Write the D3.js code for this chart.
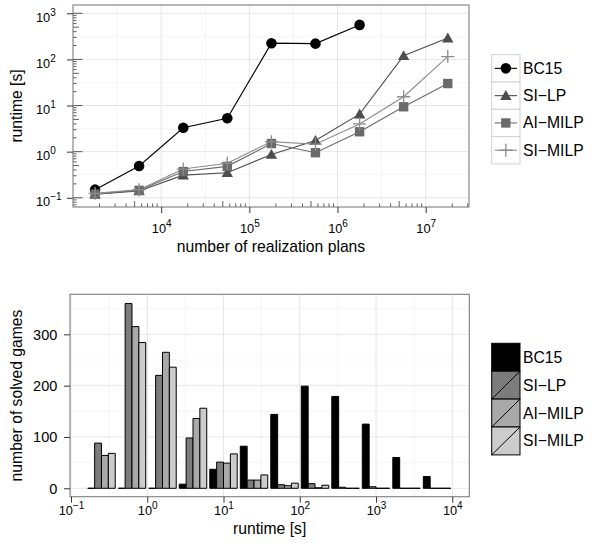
<!DOCTYPE html>
<html><head><meta charset="utf-8">
<script src="https://cdn.jsdelivr.net/npm/d3@7"></script>
<style>
body{margin:0;background:#fff}
svg{display:block}
text{font-family:"Liberation Sans", Arial, Helvetica, sans-serif;fill:#000}
</style>
</head><body>
<svg id="chart" width="595" height="549"></svg>
<script>
// ---------- data: top chart (runtime vs number of realization plans) ----------
const seriesNames = ["BC15", "SI\u2212LP", "AI\u2212MILP", "SI\u2212MILP"];
const realizationPlans = [1.78e3, 5.62e3, 1.78e4, 5.62e4, 1.78e5, 5.62e5, 1.78e6, 5.62e6, 1.78e7];
const runtimeBC15   = [0.15, 0.49, 3.3, 5.3, 225, 220, 560];
const runtimeSILP   = [0.12, 0.14, 0.31, 0.35, 0.87, 1.75, 6.5, 120, 290];
const runtimeAIMILP = [0.12, 0.145, 0.37, 0.48, 1.5, 0.95, 2.7, 9.4, 30];
const runtimeSIMILP = [0.125, 0.15, 0.42, 0.56, 1.65, 1.45, 4.0, 15.5, 115];
const topXTicks = [1e4, 1e5, 1e6, 1e7];
const topXTickExp = ["4", "5", "6", "7"];
const topYTicks = [0.1, 1, 10, 100, 1000];
const topYTickExp = ["\u22121", "0", "1", "2", "3"];

// ---------- data: bottom chart (histogram of runtimes, log10 bins) ----------
const binCentersLog10 = [-0.6, -0.2, 0.2, 0.6, 1.0, 1.4, 1.8, 2.2, 2.6, 3.0, 3.4, 3.8];
const solvedBC15   = [0, 0, 0, 8, 37, 82, 144, 199, 179, 125, 60, 23];
const solvedSILP   = [88, 360, 220, 98, 51, 16, 7, 9, 2, 3, 0, 0];
const solvedAIMILP = [64, 315, 265, 136, 49, 16, 5, 1, 0, 0, 0, 0];
const solvedSIMILP = [68, 284, 236, 156, 67, 26, 10, 6, 0, 0, 0, 0];
const bottomXTicks = [0.1, 1, 10, 100, 1000, 10000];
const bottomXTickExp = ["\u22121", "0", "1", "2", "3", "4"];
const bottomYTicks = [0, 100, 200, 300];

// ---------- styles ----------
const lineColors = ["#000000", "#4d4d4d", "#6a6a6a", "#8c8c8c"];
const barFills = ["#000000", "#7c7c7c", "#a9a9a9", "#cccccc"];
const GRID_MAJ = "#e6e6e6", GRID_MIN = "#f5f5f5", BORDER = "#7f7f7f", TICK = "#333";
const TITLE_FS = 15.7, TICK_FS = 12.8, SUP_FS = 10, YNUM_FS = 14.5;

const svg = d3.select("#chart");

function supLabel(sel, exp) {
  sel.text(null);
  sel.append("tspan").text("10");
  sel.append("tspan").attr("dy", -6).attr("font-size", SUP_FS).text(exp);
}

// =================== TOP CHART ===================
const xT = d3.scaleLog().domain([10 ** 3.0, 10 ** 7.491]).range([73, 469]);
const yT = d3.scaleLog().domain([10 ** -1.2, 10 ** 3.18]).range([207, 5]);
const gT = svg.append("g");
const [tL, tR] = xT.range(), [tB, tTop] = yT.range();

gT.append("rect").attr("x", tL).attr("y", tTop).attr("width", tR - tL).attr("height", tB - tTop).attr("fill", "#fff");
// grid
const tMinX = [3.5, 4.5, 5.5, 6.5].map(e => 10 ** e);
const tMinY = [-0.5, 0.5, 1.5, 2.5].map(e => 10 ** e);
gT.selectAll(".vmin").data(tMinX).join("line").attr("x1", d => xT(d)).attr("x2", d => xT(d))
  .attr("y1", tTop).attr("y2", tB).attr("stroke", GRID_MIN).attr("stroke-width", 1);
gT.selectAll(".hmin").data(tMinY).join("line").attr("y1", d => yT(d)).attr("y2", d => yT(d))
  .attr("x1", tL).attr("x2", tR).attr("stroke", GRID_MIN).attr("stroke-width", 1);
gT.selectAll(".vmaj").data(topXTicks).join("line").attr("x1", d => xT(d)).attr("x2", d => xT(d))
  .attr("y1", tTop).attr("y2", tB).attr("stroke", GRID_MAJ).attr("stroke-width", 1);
gT.selectAll(".hmaj").data(topYTicks).join("line").attr("y1", d => yT(d)).attr("y2", d => yT(d))
  .attr("x1", tL).attr("x2", tR).attr("stroke", GRID_MAJ).attr("stroke-width", 1);

// log ticks inside panel (left and bottom)
const logTickVals = (scale) => {
  const [a, b] = scale.domain(); const out = [];
  for (let k = Math.floor(Math.log10(a)); k <= Math.ceil(Math.log10(b)); k++)
    for (let m = 1; m <= 9; m++) { const v = m * 10 ** k; if (v >= a && v <= b) out.push({ v, m }); }
  return out;
};
gT.selectAll(".ltl").data(logTickVals(yT)).join("line")
  .attr("x1", tL).attr("x2", d => tL + (d.m === 1 ? 9.5 : d.m === 5 ? 6 : 3.5))
  .attr("y1", d => yT(d.v)).attr("y2", d => yT(d.v)).attr("stroke", TICK).attr("stroke-width", 0.8);
gT.selectAll(".ltb").data(logTickVals(xT).filter(d => d.m !== 1)).join("line")
  .attr("y1", tB).attr("y2", d => tB - (d.m === 5 ? 6 : 3.5))
  .attr("x1", d => xT(d.v)).attr("x2", d => xT(d.v)).attr("stroke", TICK).attr("stroke-width", 0.8);

// lines & points
const topSeries = [runtimeBC15, runtimeSILP, runtimeAIMILP, runtimeSIMILP];
const line = d3.line().x(d => xT(d[0])).y(d => yT(d[1]));
topSeries.forEach((vals, s) => {
  const pts = vals.map((v, i) => [realizationPlans[i], v]);
  gT.append("path").attr("d", line(pts)).attr("fill", "none")
    .attr("stroke", lineColors[s]).attr("stroke-width", 1.1);
});
const symPlus = { draw(ctx, size) { const r = Math.sqrt(size) / 2; ctx.moveTo(-r, 0); ctx.lineTo(r, 0); ctx.moveTo(0, -r); ctx.lineTo(0, r); } };
const symTypes = [d3.symbolCircle, d3.symbolTriangle, d3.symbolSquare, symPlus];
const symSizes = [88, 56, 88, 169];
function drawSym(g, s, x, y) {
  const p = g.append("path").attr("d", d3.symbol().type(symTypes[s]).size(symSizes[s])())
    .attr("transform", `translate(${x},${y + (s === 1 ? 1 : 0)})`);
  if (s === 3) p.attr("fill", "none").attr("stroke", lineColors[s]).attr("stroke-width", 1.3);
  else p.attr("fill", lineColors[s]);
}
topSeries.forEach((vals, s) => vals.forEach((v, i) => drawSym(gT, s, xT(realizationPlans[i]), yT(v))));

// border
gT.append("rect").attr("x", tL).attr("y", tTop).attr("width", tR - tL).attr("height", tB - tTop)
  .attr("fill", "none").attr("stroke", BORDER).attr("stroke-width", 1.1);

// axes
const axTx = gT.append("g").attr("transform", `translate(0,${tB})`)
  .call(d3.axisBottom(xT).tickValues(topXTicks).tickSize(6).tickPadding(8));
axTx.select(".domain").remove();
axTx.selectAll(".tick line").attr("stroke", TICK).attr("stroke-width", 1);
axTx.selectAll(".tick text").attr("font-size", TICK_FS).attr("y", 26).attr("dy", 0)
  .attr("font-family", null).attr("fill", "#000").attr("text-anchor", "middle")
  .each(function (d, i) { supLabel(d3.select(this), topXTickExp[i]); });
const axTy = gT.append("g").attr("transform", `translate(${tL},0)`)
  .call(d3.axisLeft(yT).tickValues(topYTicks).tickSize(6));
axTy.select(".domain").remove();
axTy.selectAll(".tick line").attr("stroke", TICK).attr("stroke-width", 1);
axTy.selectAll(".tick text").attr("font-size", TICK_FS).attr("x", 36 - tL).attr("dy", 0).attr("y", 8)
  .attr("font-family", null).attr("fill", "#000").attr("text-anchor", "start")
  .each(function (d, i) { supLabel(d3.select(this), topYTickExp[i]); });

gT.append("text").attr("x", (tL + tR) / 2).attr("y", 252).attr("text-anchor", "middle")
  .attr("font-size", TITLE_FS).text("number of realization plans");
gT.append("text").attr("transform", `translate(21.5,${(tTop + tB) / 2}) rotate(-90)`).attr("text-anchor", "middle")
  .attr("font-size", TITLE_FS).text("runtime [s]");

// legend (top)
const legT = svg.append("g");
const keyX = 491.7, keyW = 28.3, keyH = 27.3, legTopY = 54.7;
seriesNames.forEach((name, s) => {
  const y0 = legTopY + s * keyH;
  legT.append("rect").attr("x", keyX).attr("y", y0).attr("width", keyW).attr("height", keyH)
    .attr("fill", "#fff").attr("stroke", "#d0d0d0").attr("stroke-width", 1);
  legT.append("line").attr("x1", keyX + 3).attr("x2", keyX + keyW - 3).attr("y1", y0 + keyH / 2).attr("y2", y0 + keyH / 2)
    .attr("stroke", lineColors[s]).attr("stroke-width", 1.1);
  drawSym(legT, s, keyX + keyW / 2, y0 + keyH / 2);
  legT.append("text").attr("x", keyX + keyW + 3).attr("y", y0 + keyH / 2 + 5.5)
    .attr("font-size", TITLE_FS).text(name);
});

// =================== BOTTOM CHART ===================
const xB = d3.scaleLog().domain([10 ** -1.013, 10 ** 4.223]).range([70, 469.3]);
const yB = d3.scaleLinear().domain([-16.4, 378]).range([496.7, 294.3]);
const gB = svg.append("g");
const [bL, bR] = xB.range(), [bBot, bTop] = yB.range();
gB.append("rect").attr("x", bL).attr("y", bTop).attr("width", bR - bL).attr("height", bBot - bTop).attr("fill", "#fff");
const bMinX = [-0.5, 0.5, 1.5, 2.5, 3.5].map(e => 10 ** e);
const bMinY = [50, 150, 250, 350];
gB.selectAll(".vmin").data(bMinX).join("line").attr("x1", d => xB(d)).attr("x2", d => xB(d))
  .attr("y1", bTop).attr("y2", bBot).attr("stroke", GRID_MIN).attr("stroke-width", 1);
gB.selectAll(".hmin").data(bMinY).join("line").attr("y1", d => yB(d)).attr("y2", d => yB(d))
  .attr("x1", bL).attr("x2", bR).attr("stroke", GRID_MIN).attr("stroke-width", 1);
gB.selectAll(".vmaj").data(bottomXTicks).join("line").attr("x1", d => xB(d)).attr("x2", d => xB(d))
  .attr("y1", bTop).attr("y2", bBot).attr("stroke", GRID_MAJ).attr("stroke-width", 1);
gB.selectAll(".hmaj").data(bottomYTicks).join("line").attr("y1", d => yB(d)).attr("y2", d => yB(d))
  .attr("x1", bL).attr("x2", bR).attr("stroke", GRID_MAJ).attr("stroke-width", 1);

const bottomSeries = [solvedBC15, solvedSILP, solvedAIMILP, solvedSIMILP];
const binW = 0.4, dodgeW = 0.9 * binW, barW = dodgeW / 4;
binCentersLog10.forEach((c, i) => {
  bottomSeries.forEach((vals, s) => {
    const lo = c - dodgeW / 2 + s * barW, hi = lo + barW;
    const x0 = xB(10 ** lo), x1 = xB(10 ** hi), y0 = yB(0), y1 = yB(vals[i]);
    gB.append("path").attr("d", `M${x0},${y0}H${x1}V${y1}H${x0}Z`)
      .attr("fill", barFills[s]).attr("stroke", "#000").attr("stroke-width", 1);
  });
});
gB.append("rect").attr("x", bL).attr("y", bTop).attr("width", bR - bL).attr("height", bBot - bTop)
  .attr("fill", "none").attr("stroke", BORDER).attr("stroke-width", 1.1);

const axBx = gB.append("g").attr("transform", `translate(0,${bBot})`)
  .call(d3.axisBottom(xB).tickValues(bottomXTicks).tickSize(6));
axBx.select(".domain").remove();
axBx.selectAll(".tick line").attr("stroke", TICK).attr("stroke-width", 1);
axBx.selectAll(".tick text").attr("font-size", TICK_FS).attr("y", 18.5).attr("dy", 0)
  .attr("font-family", null).attr("fill", "#000").attr("text-anchor", "middle")
  .each(function (d, i) { supLabel(d3.select(this), bottomXTickExp[i]); });
const axBy = gB.append("g").attr("transform", `translate(${bL},0)`)
  .call(d3.axisLeft(yB).tickValues(bottomYTicks).tickSize(6).tickPadding(6));
axBy.select(".domain").remove();
axBy.selectAll(".tick line").attr("stroke", TICK).attr("stroke-width", 1);
axBy.selectAll(".tick text").attr("font-size", YNUM_FS).attr("x", -12.7).attr("dy", 0).attr("y", 5)
  .attr("font-family", null).attr("fill", "#000").attr("text-anchor", "end");

gB.append("text").attr("x", (bL + bR) / 2).attr("y", 534).attr("text-anchor", "middle")
  .attr("font-size", TITLE_FS).text("runtime [s]");
gB.append("text").attr("transform", `translate(21.5,${(bTop + bBot) / 2}) rotate(-90)`).attr("text-anchor", "middle")
  .attr("font-size", TITLE_FS).text("number of solved games");

// legend (bottom)
const legB = svg.append("g");
const legBTop = 343.3, keyHB = 27.9;
seriesNames.forEach((name, s) => {
  const y0 = legBTop + s * keyHB;
  legB.append("rect").attr("x", keyX).attr("y", y0).attr("width", keyW).attr("height", keyHB)
    .attr("fill", barFills[s]).attr("stroke", "#000").attr("stroke-width", 1);
  legB.append("line").attr("x1", keyX).attr("y1", y0 + keyHB).attr("x2", keyX + keyW).attr("y2", y0)
    .attr("stroke", "#000").attr("stroke-width", 1);
  legB.append("text").attr("x", keyX + keyW + 3).attr("y", y0 + keyHB / 2 + 5.5)
    .attr("font-size", TITLE_FS).text(name);
});
</script>
</body></html>
